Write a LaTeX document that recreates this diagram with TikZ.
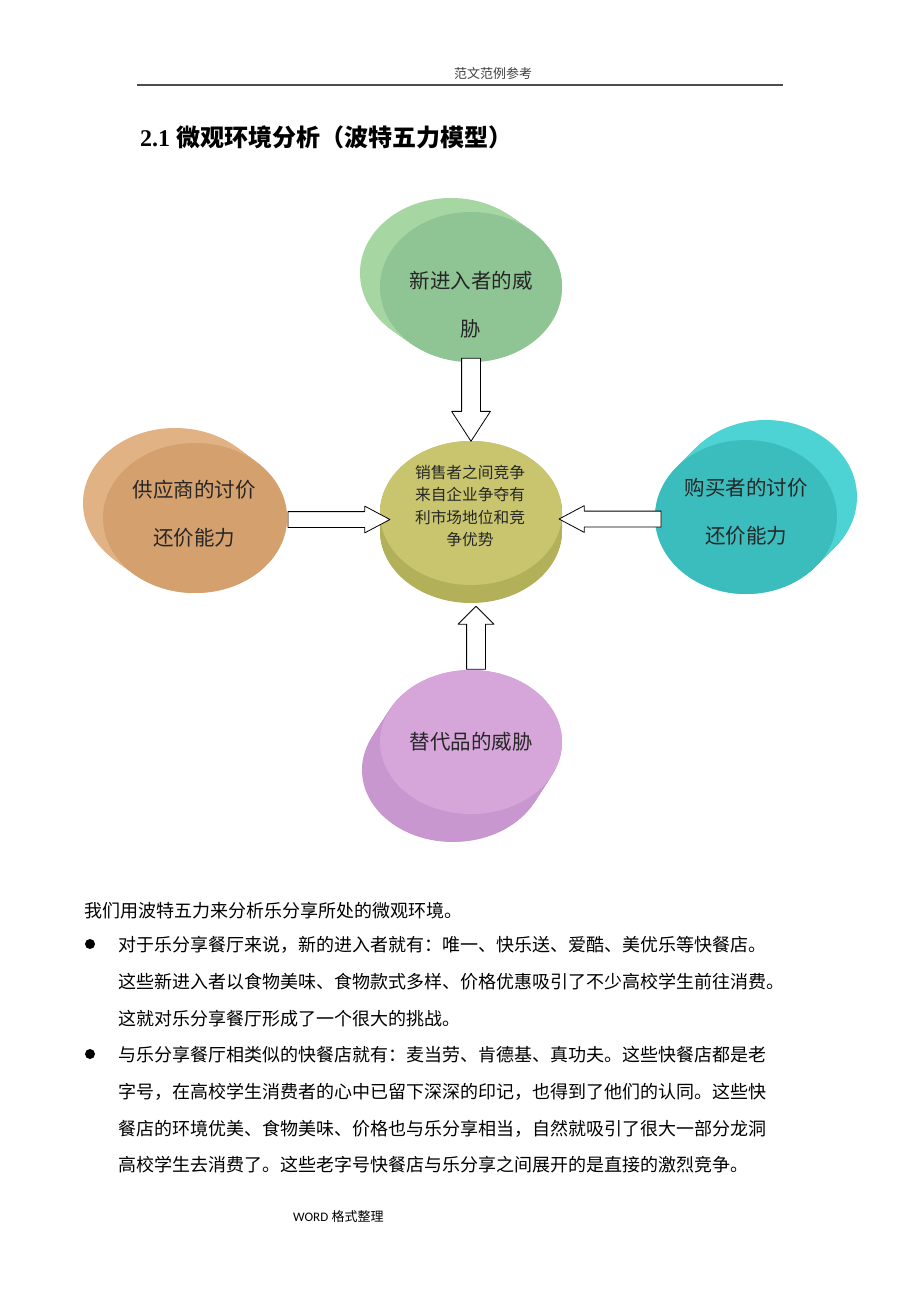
\documentclass[tikz,border=0pt]{standalone}
\usepackage{fontspec}
\setmainfont{Liberation Serif}
\newfontfamily\cjk{Noto Sans CJK SC}
\newfontfamily\wordfont{Carlito}
\usetikzlibrary{shapes.geometric,shapes.arrows,calc,backgrounds}
\definecolor{greenface}{HTML}{8FC494}
\definecolor{greenside}{HTML}{A6D6A2}
\definecolor{oliveface}{HTML}{C9C56F}
\definecolor{oliveside}{HTML}{B3B05A}
\definecolor{tanface}{HTML}{D4A06E}
\definecolor{tanside}{HTML}{E1B283}
\definecolor{tealface}{HTML}{3CBDBD}
\definecolor{tealside}{HTML}{4DD3D3}
\definecolor{pinkface}{HTML}{D6A6DB}
\definecolor{pinkside}{HTML}{C897D0}
\begin{document}
\begin{tikzpicture}[x=1pt,y=-1pt, line join=round,
  face/.style={ellipse, inner sep=0pt},
  disktext/.style={align=center, text=black!85, inner sep=0pt, font=\cjk\fontsize{20.5}{48}\selectfont},
  blk/.style={single arrow, draw, fill=white, line width=0.8pt, inner xsep=0pt},
  body/.style={anchor=base west, inner sep=0pt, font=\cjk\fontsize{18}{18}\selectfont},
  dot/.style={circle, fill=black, inner sep=0pt, minimum size=10pt}]
\useasboundingbox (0,0) rectangle (920,1302);

% page head
\node[font=\cjk\fontsize{13}{13}\selectfont, text=black!75] (head) at (493,74) {范文范例参考};
\coordinate (hl) at (137,85);
\coordinate (hr) at (783,85);
\draw[line width=1.3pt, black!70] (hl) -- (hr);
\node[anchor=base west, inner sep=0pt, font=\fontsize{24}{24}\selectfont\bfseries] (title) at (140,146)
  {2.1 {\cjk 微观环境分析（波特五力模型）}};

% five forces
\node[face, fill=greenface, minimum width=182pt, minimum height=150pt] (top) at (471,287) {};
\node[face, fill=oliveface, minimum width=182pt, minimum height=144pt] (core) at (471,513) {};
\node[face, fill=tanface, minimum width=184pt, minimum height=150pt] (sup) at (195,518) {};
\node[face, fill=tealface, minimum width=182pt, minimum height=154pt] (buy) at (746,517) {};
\node[face, fill=pinkface, minimum width=182pt, minimum height=144pt] (sub) at (471,742) {};
\begin{scope}[on background layer]
\fill[white] (0,0) rectangle (920,1302);
\foreach \n/\dx/\dy/\rx/\ry/\c in {top/-20/-14/91/75/greenside, core/0/18/91/72/oliveside,
    sup/-20/-15/92/75/tanside, buy/20/-20/91/77/tealside, sub/-18/28/91/72/pinkside}
  \foreach \t in {0,0.04,...,1.01}
    \fill[\c] ($(\n)+\t*(\dx,\dy)$) ellipse [x radius=\rx, y radius=\ry];
\end{scope}

\node[disktext] (topt) at ($(top)+(0,18)$) {新进入者的威\\胁};
\node[disktext, font=\cjk\fontsize{15.7}{22.5}\selectfont] (coret) at ($(core)+(-1,-7)$)
  {销售者之间竞争\\来自企业争夺有\\利市场地位和竞\\争优势};
\node[disktext] (supt) at ($(sup)+(-1,-4)$) {供应商的讨价\\还价能力};
\node[disktext] (buyt) at ($(buy)+(0,-5)$) {购买者的讨价\\还价能力};
\node[disktext] (subt) at (sub) {替代品的威胁};

% hollow arrows
\node[blk, rotate=-90, minimum height=83pt, minimum width=38pt, inner ysep=9pt,
  single arrow head extend=10pt, single arrow tip angle=66] (a1) at ($(top.south)!.5!(core.north)+(0,-9)$) {};
\node[blk, minimum height=102pt, minimum width=26pt, inner ysep=7.5pt,
  single arrow head extend=5.5pt, single arrow tip angle=56] (a2) at ($(sup.east)!.5!(core.west)+(-2,4)$) {};
\node[blk, rotate=180, minimum height=102pt, minimum width=26pt, inner ysep=7.5pt,
  single arrow head extend=5.5pt, single arrow tip angle=56] (a3) at ($(buy.west)!.5!(core.east)+(9,4)$) {};
\node[blk, rotate=90, minimum height=63pt, minimum width=35pt, inner ysep=9pt,
  single arrow head extend=8.5pt, single arrow tip angle=90] (a4) at ($(sub.north)!.5!(core.south)+(5,15)$) {};

% text below
\node[body] (p0) at (84,917) {我们用波特五力来分析乐分享所处的微观环境。};
\node[dot] (b1) at (90,944) {};
\node[body] (p1) at (118,951) {对于乐分享餐厅来说，新的进入者就有：唯一、快乐送、爱酷、美优乐等快餐店。};
\node[body] (p2) at (118,988) {这些新进入者以食物美味、食物款式多样、价格优惠吸引了不少高校学生前往消费。};
\node[body] (p3) at (118,1025) {这就对乐分享餐厅形成了一个很大的挑战。};
\node[dot] (b2) at (90,1054) {};
\node[body] (p4) at (118,1061) {与乐分享餐厅相类似的快餐店就有：麦当劳、肯德基、真功夫。这些快餐店都是老};
\node[body] (p5) at (118,1098) {字号，在高校学生消费者的心中已留下深深的印记，也得到了他们的认同。这些快};
\node[body] (p6) at (118,1135) {餐店的环境优美、食物美味、价格也与乐分享相当，自然就吸引了很大一部分龙洞};
\node[body] (p7) at (118,1171) {高校学生去消费了。这些老字号快餐店与乐分享之间展开的是直接的激烈竞争。};

\node[anchor=base west, inner sep=0pt, font=\fontsize{13}{13}\selectfont] (foot) at (293,1221)
  {{\wordfont WORD} {\cjk 格式整理}};
\end{tikzpicture}
\end{document}
